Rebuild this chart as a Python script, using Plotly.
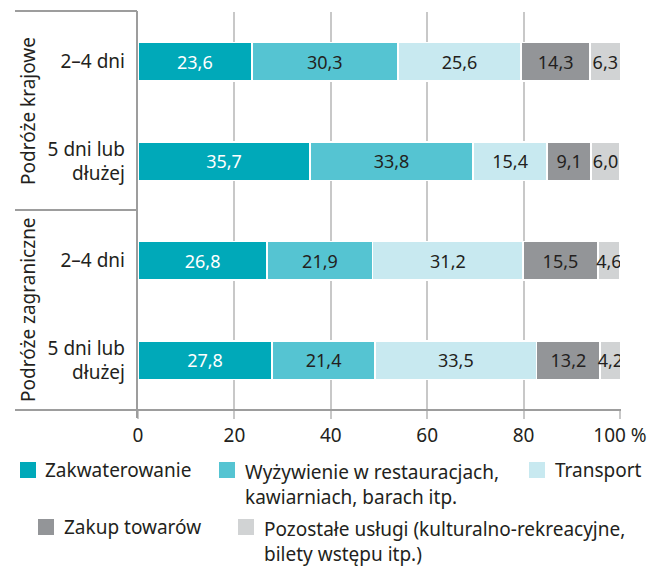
import plotly.graph_objects as go

# ---- data ----
row_labels = ["2–4 dni", "5 dni lub<br>dłużej", "2–4 dni", "5 dni lub<br>dłużej"]
group_labels = ["Podróże krajowe", "Podróże zagraniczne"]
series_names = ["Zakwaterowanie",
                "Wyżywienie w restauracjach,<br>kawiarniach, barach itp.",
                "Transport",
                "Zakup towarów",
                "Pozostałe usługi (kulturalno-rekreacyjne,<br>bilety wstępu itp.)"]
zakwaterowanie = [23.6, 35.7, 26.8, 27.8]
wyzywienie = [30.3, 33.8, 21.9, 21.4]
transport = [25.6, 15.4, 31.2, 33.5]
zakup = [14.3, 9.1, 15.5, 13.2]
pozostale = [6.3, 6.0, 4.6, 4.2]
x_tickvals = [0, 20, 40, 60, 80, 100]
x_ticktext = ["0", "20", "40", "60", "80", "100 %"]

colors = ["#00a9b9", "#55c4d2", "#c8e9f0", "#939598", "#d1d3d4"]
text_colors = ["#ffffff", "#231f20", "#231f20", "#231f20", "#231f20"]
series = [zakwaterowanie, wyzywienie, transport, zakup, pozostale]

FONT = "Noto Sans"
DARK = "#231f20"

fig = go.Figure()
ypos = list(range(len(row_labels)))
for name, vals, c, tc in zip(series_names, series, colors, text_colors):
    fig.add_trace(go.Bar(
        y=ypos, x=vals, orientation="h", name=name,
        marker=dict(color=c, line=dict(color="white", width=1.5)),
        width=0.39,
        texttemplate="%{x:.1f}", textposition="inside", textangle=0,
        insidetextanchor="middle", constraintext="none",
        textfont=dict(color=tc, size=18, family=FONT),
        showlegend=False, hoverinfo="skip",
    ))

# ---- pixel helpers for layout decorations ----
W, H = 658, 566
L, R, T, B = 138, 620, 12, 410


def px(x):
    return (x - L) / (R - L)


def py(y):
    return (B - y) / (B - T)


LINE = "#9d9d9d"
shapes = []
shapes.append(dict(type="line", xref="paper", yref="paper", x0=px(15), x1=px(137), y0=py(11), y1=py(11),
                   line=dict(color=LINE, width=2)))
shapes.append(dict(type="line", xref="paper", yref="paper", x0=px(15), x1=px(137), y0=py(210), y1=py(210),
                   line=dict(color=LINE, width=2)))
shapes.append(dict(type="line", xref="paper", yref="paper", x0=px(15), x1=px(621), y0=py(410), y1=py(410),
                   line=dict(color=LINE, width=2)))
shapes.append(dict(type="line", xref="paper", yref="paper", x0=px(137), x1=px(137), y0=py(11), y1=py(418),
                   line=dict(color=LINE, width=2)))

annotations = []
annotations.append(dict(text=group_labels[0], xref="paper", yref="paper", x=px(28), y=py(111),
                        xanchor="center", yanchor="middle",
                        textangle=-90, showarrow=False, font=dict(size=19, family=FONT, color=DARK)))
annotations.append(dict(text=group_labels[1], xref="paper", yref="paper", x=px(28), y=py(310),
                        xanchor="center", yanchor="middle",
                        textangle=-90, showarrow=False, font=dict(size=19, family=FONT, color=DARK)))

# ---- custom legend ----
legend_items = [
    (20, 470, 44, False),
    (219, 470, 244, True),
    (529, 470, 554, False),
    (38, 527, 63, False),
    (238, 527, 263, True),
]
SQ = 16
for (sx, cy, tx, two), name, c in zip(legend_items, series_names, colors):
    shapes.append(dict(type="rect", xref="paper", yref="paper",
                       x0=px(sx), x1=px(sx + SQ), y0=py(cy - SQ / 2), y1=py(cy + SQ / 2),
                       fillcolor=c, line=dict(width=0)))
    if two:
        annotations.append(dict(text=name, xref="paper", yref="paper", x=px(tx), y=py(cy - 12.5),
                                xanchor="left", yanchor="top", align="left", showarrow=False,
                                borderpad=0,
                                font=dict(size=19, family=FONT, color=DARK)))
    else:
        annotations.append(dict(text=name, xref="paper", yref="paper", x=px(tx), y=py(cy),
                                xanchor="left", yanchor="middle", align="left", showarrow=False,
                                borderpad=0,
                                font=dict(size=19, family=FONT, color=DARK)))

fig.update_layout(
    barmode="stack",
    width=W, height=H,
    margin=dict(l=L, r=W - R, t=T, b=H - B, autoexpand=False),
    paper_bgcolor="white", plot_bgcolor="white",
    separators=", ",
    uniformtext=dict(minsize=18, mode="show"),
    font=dict(family=FONT, size=19, color=DARK),
    shapes=shapes,
    annotations=annotations,
    xaxis=dict(range=[0, 100], tickvals=x_tickvals, ticktext=x_ticktext,
               showgrid=True, gridcolor="#c8c8c8", gridwidth=1.5,
               ticks="outside", ticklen=8, tickcolor="#c8c8c8", tickwidth=1.5,
               showline=False, zeroline=False, fixedrange=True,
               tickfont=dict(size=19, family=FONT, color=DARK)),
    yaxis=dict(range=[3.5, -0.5], tickvals=ypos, ticktext=row_labels,
               showgrid=False, zeroline=False, showline=False, ticks="",
               ticklabelstandoff=12, fixedrange=True,
               tickfont=dict(size=19, family=FONT, color=DARK)),
)

fig.write_html("out.html", config={"displayModeBar": False},
               post_script="document.body.style.margin='0';document.body.style.padding='0';")
